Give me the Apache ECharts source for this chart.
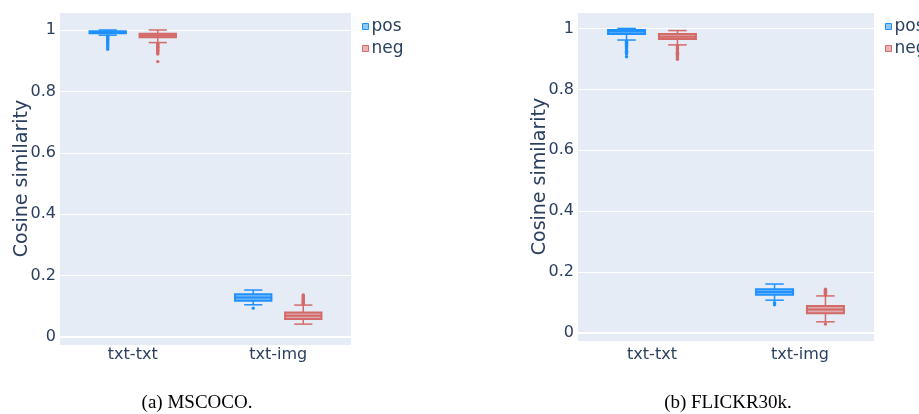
<!DOCTYPE html>
<html>
<head>
<meta charset="utf-8">
<script src="https://cdn.jsdelivr.net/npm/echarts@6/dist/echarts.min.js"></script>
<style>html,body{margin:0;padding:0;background:#fff;}#c{width:919px;height:414px;}</style>
</head>
<body>
<div id="c"></div>
<script>
// ---- data ----
const categories = ['txt-txt', 'txt-img'];
const seriesNames = ['pos', 'neg'];
const yTicks = [0, 0.2, 0.4, 0.6, 0.8, 1];
// box stats per category: [min, q1, median, q3, max]
const mscocoPos = [[0.983, 0.989, 0.993, 0.996, 1.0], [0.105, 0.118, 0.129, 0.139, 0.153]];
const mscocoNeg = [[0.959, 0.976, 0.982, 0.988, 1.0], [0.042, 0.059, 0.069, 0.080, 0.104]];
const flickrPos = [[0.962, 0.982, 0.990, 0.995, 1.0], [0.108, 0.126, 0.135, 0.144, 0.161]];
const flickrNeg = [[0.946, 0.965, 0.973, 0.982, 0.993], [0.037, 0.065, 0.077, 0.089, 0.122]];
// outliers per category
const mscocoPosOut = [[0.980, 0.977, 0.975, 0.971, 0.968, 0.966, 0.962, 0.959, 0.955, 0.951, 0.947, 0.942, 0.937], [0.094]];
const mscocoNegOut = [[0.956, 0.953, 0.951, 0.947, 0.944, 0.942, 0.938, 0.935, 0.933, 0.929, 0.926, 0.922, 0.897], [0.107, 0.110, 0.112, 0.116, 0.119, 0.121, 0.125, 0.128, 0.130, 0.134, 0.137]];
const flickrPosOut = [[0.958, 0.955, 0.951, 0.948, 0.944, 0.941, 0.937, 0.933, 0.929, 0.925, 0.921, 0.916, 0.907], [0.100, 0.096, 0.093]];
const flickrNegOut = [[0.943, 0.940, 0.936, 0.933, 0.930, 0.926, 0.922, 0.919, 0.915, 0.911, 0.907, 0.903, 0.899], [0.125, 0.128, 0.131, 0.134, 0.137, 0.141, 0.144, 0.030]];
const captions = ['(a) MSCOCO.', '(b) FLICKR30k.'];
const yTitle = 'Cosine similarity';

// ---- styles ----
const TXT = '#2a3f5f';
const POS_LINE = '#1E90FF', POS_FILL = 'rgba(30,144,255,0.5)';
const NEG_LINE = '#D46A68', NEG_FILL = 'rgba(212,106,104,0.5)';
const OFF = 0.172, BW = 0.25;

function boxData(stats) { return stats.map((s, i) => [i].concat(s)); }
function outData(outs) { const r = []; outs.forEach((arr, i) => arr.forEach(v => r.push([i, v]))); return r; }

function boxRender(off, line, fill) {
  return function (params, api) {
    const cat = api.value(0);
    const band = api.size([1, 0])[0];
    const cx = api.coord([cat, 0])[0] + off * band;
    const w = BW * band, cw = w * 0.5;
    const y = i => api.coord([cat, api.value(i)])[1];
    const yMin = y(1), yQ1 = y(2), yMed = y(3), yQ3 = y(4), yMax = y(5);
    const ls = { stroke: line, lineWidth: 1.5, fill: null };
    return {
      type: 'group',
      children: [
        { type: 'line', shape: { x1: cx, y1: yQ3, x2: cx, y2: yMax }, style: ls },
        { type: 'line', shape: { x1: cx, y1: yQ1, x2: cx, y2: yMin }, style: ls },
        { type: 'line', shape: { x1: cx - cw / 2, y1: yMax, x2: cx + cw / 2, y2: yMax }, style: ls },
        { type: 'line', shape: { x1: cx - cw / 2, y1: yMin, x2: cx + cw / 2, y2: yMin }, style: ls },
        { type: 'rect', shape: { x: cx - w / 2, y: yQ3, width: w, height: Math.max(yQ1 - yQ3, 0.5) }, style: { fill: fill, stroke: line, lineWidth: 2 } },
        { type: 'line', shape: { x1: cx - w / 2, y1: yMed, x2: cx + w / 2, y2: yMed }, style: { stroke: line, lineWidth: 2 } }
      ]
    };
  };
}
function outRender(off, line) {
  return function (params, api) {
    const cat = api.value(0);
    const band = api.size([1, 0])[0];
    const p = api.coord([cat, api.value(1)]);
    return { type: 'circle', shape: { cx: p[0] + off * band, cy: p[1], r: 1.7 }, style: { fill: line } };
  };
}

function makeSeries(gi, stats, outs, name, off, line, fill) {
  return [
    { type: 'custom', name: name, xAxisIndex: gi, yAxisIndex: gi, data: boxData(stats),
      encode: { x: 0, y: [1, 2, 3, 4, 5] }, renderItem: boxRender(off, line, fill),
      itemStyle: { color: fill, borderColor: line }, clip: false },
    { type: 'custom', name: name, xAxisIndex: gi, yAxisIndex: gi, data: outData(outs),
      encode: { x: 0, y: 1 }, renderItem: outRender(off, line),
      itemStyle: { color: line }, clip: false }
  ];
}

const grids = [
  { left: 60, top: 12, width: 291, height: 333, yMin: -0.026, yMax: 1.0586, lm: 2 },
  { left: 578, top: 12, width: 296, height: 329, yMin: -0.026, yMax: 1.054, lm: 6 }
];

const option = {
  animation: false,
  backgroundColor: '#fff',
  textStyle: { fontFamily: 'DejaVu Sans' },
  grid: grids.map(g => ({ left: g.left, top: g.top, width: g.width, height: g.height, show: true, backgroundColor: '#E5ECF6', borderWidth: 0 })),
  xAxis: grids.map((g, i) => ({
    type: 'category', gridIndex: i, data: categories,
    axisLine: { show: true, onZero: true, lineStyle: { color: '#fff', width: 2 } },
    axisTick: { show: false },
    splitLine: { show: false },
    axisLabel: { color: TXT, fontSize: 16, margin: g.lm, fontFamily: 'DejaVu Sans' }
  })),
  yAxis: grids.map((g, i) => ({
    type: 'value', gridIndex: i, min: g.yMin, max: g.yMax, splitNumber: 5,
    name: yTitle, nameLocation: 'middle', nameGap: 28, nameMoveOverlap: false,
    nameTextStyle: { color: TXT, fontSize: 19, fontFamily: 'DejaVu Sans' },
    axisLine: { show: false }, axisTick: { show: false },
    splitLine: { show: true, lineStyle: { color: '#fff', width: 1 } },
    axisLabel: { color: TXT, fontSize: 16, margin: 4, showMinLabel: false, showMaxLabel: false, fontFamily: 'DejaVu Sans',
      formatter: v => (yTicks.some(t => Math.abs(t - v) < 1e-6) ? String(+v.toFixed(1)) : '') }
  })),
  legend: grids.map((g, i) => ({
    orient: 'vertical', left: g.left + g.width + 6, top: 13, itemWidth: 6, itemHeight: 6, itemGap: 5,
    textStyle: { color: TXT, fontSize: 17, lineHeight: 17, fontFamily: 'DejaVu Sans', padding: [0, 0, 0, -2] },
    data: [
      { name: 'pos', icon: 'rect', itemStyle: { color: POS_FILL, borderColor: POS_LINE, borderWidth: 1 } },
      { name: 'neg', icon: 'rect', itemStyle: { color: NEG_FILL, borderColor: NEG_LINE, borderWidth: 1 } }
    ]
  })),
  series: [].concat(
    makeSeries(0, mscocoPos, mscocoPosOut, seriesNames[0], -OFF, POS_LINE, POS_FILL),
    makeSeries(0, mscocoNeg, mscocoNegOut, seriesNames[1], OFF, NEG_LINE, NEG_FILL),
    makeSeries(1, flickrPos, flickrPosOut, seriesNames[0], -OFF, POS_LINE, POS_FILL),
    makeSeries(1, flickrNeg, flickrNegOut, seriesNames[1], OFF, NEG_LINE, NEG_FILL)
  ),
  graphic: [
    { type: 'text', x: 197, y: 403, style: { text: captions[0], fill: '#000', font: '19px "Liberation Serif"', align: 'center', verticalAlign: 'middle' } },
    { type: 'text', x: 728, y: 403, style: { text: captions[1], fill: '#000', font: '19px "Liberation Serif"', align: 'center', verticalAlign: 'middle' } }
  ]
};
const chart = echarts.init(document.getElementById('c'), null, { renderer: 'canvas' });
chart.setOption(option);
</script>
</body>
</html>
